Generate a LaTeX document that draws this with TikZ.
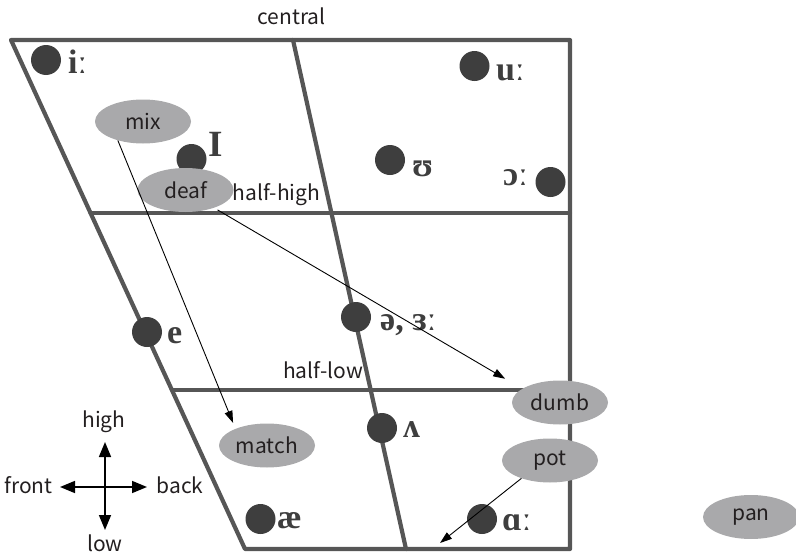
\documentclass[tikz,border=0pt]{standalone}
\usepackage{fontspec}
\newfontfamily\sansf{Noto Sans CJK SC}
\newfontfamily\ipaf{Liberation Serif}
\usetikzlibrary{shapes.geometric,arrows.meta}
\definecolor{gridc}{HTML}{565656}
\definecolor{dotc}{HTML}{3E3E3E}
\definecolor{ellc}{HTML}{A9A9AB}
\definecolor{txtc}{HTML}{231F20}
\begin{document}
\begin{tikzpicture}[x=1pt,y=-1pt,
  grid/.style={draw=gridc,line width=4.2pt,line join=round,line cap=round},
  vdot/.style={circle,fill=dotc,minimum size=30pt,inner sep=0pt},
  ipa/.style={font=\ipaf\bfseries\fontsize{34}{34}\selectfont,text=dotc,inner sep=0pt,anchor=base west},
  ipabig/.style={font=\ipaf\bfseries\fontsize{37}{37}\selectfont,text=dotc,inner sep=0pt,anchor=base west},
  word/.style={ellipse,fill=ellc,minimum width=96pt,minimum height=44pt,inner sep=0pt,font=\sansf\fontsize{21}{21}\selectfont,text=txtc},
  lbl/.style={font=\sansf\fontsize{21}{21}\selectfont,text=txtc,inner sep=0pt,anchor=base},
  conn/.style={draw=black,line width=0.9pt,-{Triangle[length=12pt,width=8pt]}},
  compass/.style={draw=black,line width=1.6pt,-{Triangle[length=15pt,width=12pt]}}]

\useasboundingbox (0,0) rectangle (796,557);

% chart frame
\coordinate (TL) at (11,40);
\coordinate (TR) at (570,40);
\coordinate (BR) at (570,549);
\coordinate (BL) at (245,549);
\coordinate (CT) at (293,40);
\coordinate (CB) at (406,549);
\coordinate (HHL) at (90.5,213);
\coordinate (HHR) at (570,213);
\coordinate (HLL) at (172,390);
\coordinate (HLR) at (570,390);
\draw[grid] (TL) -- (TR) -- (BR) -- (BL) -- cycle;
\draw[grid] (CT) -- (CB);
\draw[grid] (HHL) -- (HHR);
\draw[grid] (HLL) -- (HLR);

% vowel dots
\node[vdot] (di) at (46,60) {};
\node[vdot] (dI) at (191.5,159) {};
\node[vdot] (du) at (474.5,66) {};
\node[vdot] (dU) at (390,160) {};
\node[vdot] (dO) at (550.5,182) {};
\node[vdot] (de) at (147,332) {};
\node[vdot] (dschwa) at (356,317) {};
\node[vdot] (dV) at (382,428) {};
\node[vdot] (dae) at (260.5,519) {};
\node[vdot] (dA) at (482,519) {};

% word ellipses
\node[word] (mix) at (143,121.5) {mix};
\node[word] (deaf) at (185.5,190) {deaf};
\node[word] (match) at (267,445.5) {match};
\node[word] (dumb) at (560,402.5) {dumb};
\node[word] (pot) at (550,460.5) {pot};
\node[word] (pan) at (751,517) {pan};

% IPA labels
\node[ipa] (li) at (68,73) {iː};
\node[ipabig] (lI) at (208,156) {I};
\node[ipa] (lu) at (496,80) {uː};
\node[ipa] (lU) at (412,176) {ʊ};
\node[ipa] (lO) at (503,185) {ɔː};
\node[ipa] (le) at (167,343) {e};
\node[ipa] (lschwa) at (380,330) {ə, ɜː};
\node[ipa] (lV) at (403,437) {ʌ};
\node[ipa] (lae) at (277,528) {æ};
\node[ipa] (lA) at (502,530) {ɑː};

% region labels
\node[lbl] (central) at (291.5,24) {central};
\node[lbl] (halfhigh) at (276.5,200) {half-high};
\node[lbl] (halflow) at (323,378) {half-low};

% connectors
\coordinate (potend) at (440,543);
\draw[conn,shorten >=6.3pt] (mix.217) -- (match.152);
\draw[conn,shorten <=4pt,shorten >=19.7pt] (deaf.328) -- (dumb.160.5);
\draw[conn] (pot.212) -- (potend);

% compass
\coordinate (cc) at (105,487);
\coordinate (cup) at (105,442);
\coordinate (cdown) at (105,530);
\coordinate (cleft) at (60,487);
\coordinate (cright) at (147,487);
\draw[compass] (cc) -- (cup);
\draw[compass] (cc) -- (cdown);
\draw[compass] (cc) -- (cleft);
\draw[compass] (cc) -- (cright);
\node[lbl] (high) at (104,427) {high};
\node[lbl] (front) at (28.5,493) {front};
\node[lbl] (back) at (180,493) {back};
\node[lbl] (low) at (105,551) {low};
\end{tikzpicture}
\end{document}
